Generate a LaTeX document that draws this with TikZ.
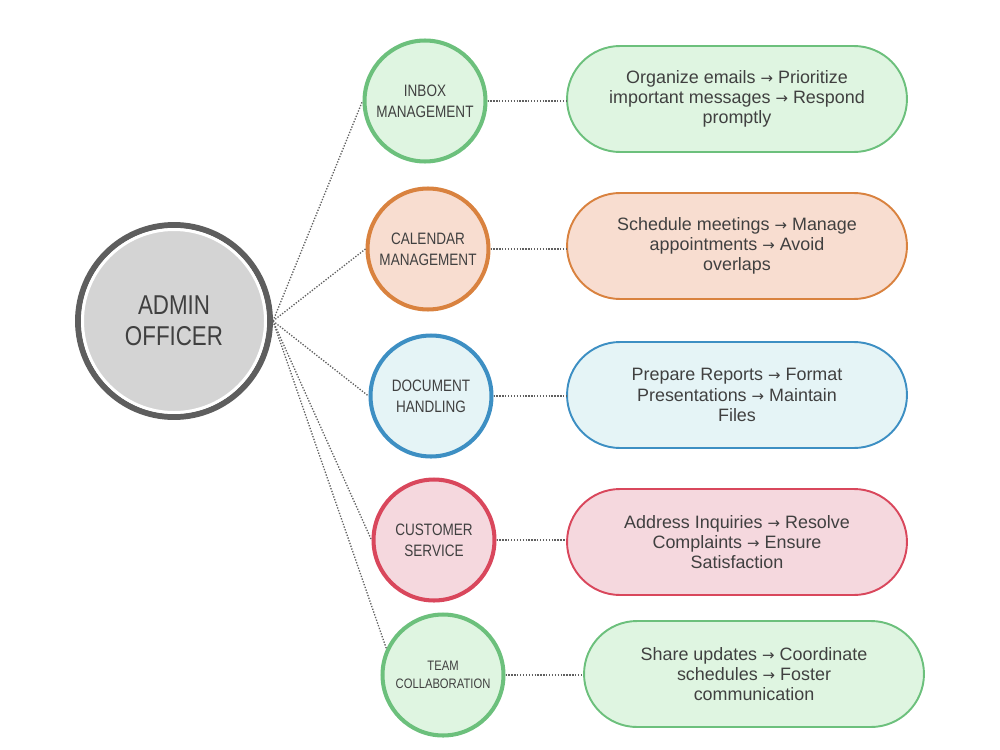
\documentclass[tikz,border=0pt]{standalone}
\usepackage{fontspec}
\setmainfont{Liberation Sans}
\newfontfamily\condfont[FakeStretch=0.82]{Liberation Sans}
\newfontfamily\arrfont{DejaVu Sans}
\newcommand{\ar}{{\arrfont\fontsize{8.5}{10}\selectfont →}}
\definecolor{txt}{HTML}{404040}
\definecolor{grnB}{HTML}{6CC07C}
\definecolor{grnF}{HTML}{DFF5E1}
\definecolor{orgB}{HTML}{D9823F}
\definecolor{orgF}{HTML}{F8DDD0}
\definecolor{bluB}{HTML}{3D8FC3}
\definecolor{bluF}{HTML}{E5F4F6}
\definecolor{redB}{HTML}{D9475C}
\definecolor{redF}{HTML}{F5D8DE}
\definecolor{hubF}{HTML}{D4D4D4}
\definecolor{hubB}{HTML}{5E5E5E}
\definecolor{lnk}{HTML}{606060}
\begin{document}
\begin{tikzpicture}[x=0.02cm,y=-0.02cm,
  hub/.style={circle,minimum size=3.84cm,inner sep=0pt,fill=hubF,draw=hubB,line width=3.4pt,
    text=txt,font=\condfont\fontsize{15.5}{17.5}\selectfont,align=center},
  topic/.style={circle,minimum size=2.42cm,inner sep=0pt,line width=2.3pt,text=txt,
    font=\condfont\fontsize{9.4}{11.8}\selectfont,align=center},
  pill/.style={rectangle,rounded corners=1.06cm,minimum width=6.8cm,minimum height=2.12cm,
    inner sep=0pt,line width=1.1pt,text=txt,font=\fontsize{10.2}{11.5}\selectfont,align=center},
  link/.style={lnk,line width=0.75pt,dash pattern=on 0.75pt off 0.9pt}]
\useasboundingbox (0,0) rectangle (1000,750);
\node[hub] (hub) at (174,321) {ADMIN\\OFFICER};
\draw[white,line width=1.7pt] (hub.center) circle[radius=91.5];

\node[topic,draw=grnB,fill=grnF] (c1) at (425,101) {INBOX\\MANAGEMENT};
\node[topic,draw=orgB,fill=orgF] (c2) at (428,249) {CALENDAR\\MANAGEMENT};
\node[topic,draw=bluB,fill=bluF] (c3) at (431,396) {DOCUMENT\\HANDLING};
\node[topic,draw=redB,fill=redF] (c4) at (434,540) {CUSTOMER\\SERVICE};
\node[topic,draw=grnB,fill=grnF,font=\condfont\fontsize{7.8}{10.5}\selectfont] (c5) at (443,675) {TEAM\\COLLABORATION};

\node[pill,draw=grnB,fill=grnF] (p1) at (737,99) {Organize emails \ar{} Prioritize\\important messages \ar{} Respond\\promptly};
\node[pill,draw=orgB,fill=orgF] (p2) at (737,246) {Schedule meetings \ar{} Manage\\appointments \ar{} Avoid\\overlaps};
\node[pill,draw=bluB,fill=bluF] (p3) at (737,395) {Prepare Reports \ar{} Format\\Presentations \ar{} Maintain\\Files};
\node[pill,draw=redB,fill=redF] (p4) at (737,542) {Address Inquiries \ar{} Resolve\\Complaints \ar{} Ensure\\Satisfaction};
\node[pill,draw=grnB,fill=grnF] (p5) at (754,674) {Share updates \ar{} Coordinate\\schedules \ar{} Foster\\communication};

\draw[link] (hub.east) -- (c1.west);
\draw[link] (hub.east) -- (c2.west);
\draw[link] (hub.east) -- (c3.west);
\draw[link] (hub.east) -- (c4.west);
\draw[link] (hub.east) -- (c5.155);

\draw[link] (c1.east) -- (c1.east -| p1.west);
\draw[link] (c2.east) -- (c2.east -| p2.west);
\draw[link] (c3.east) -- (c3.east -| p3.west);
\draw[link] (c4.east) -- (c4.east -| p4.west);
\draw[link] (c5.east) -- (c5.east -| p5.west);
\end{tikzpicture}
\end{document}
